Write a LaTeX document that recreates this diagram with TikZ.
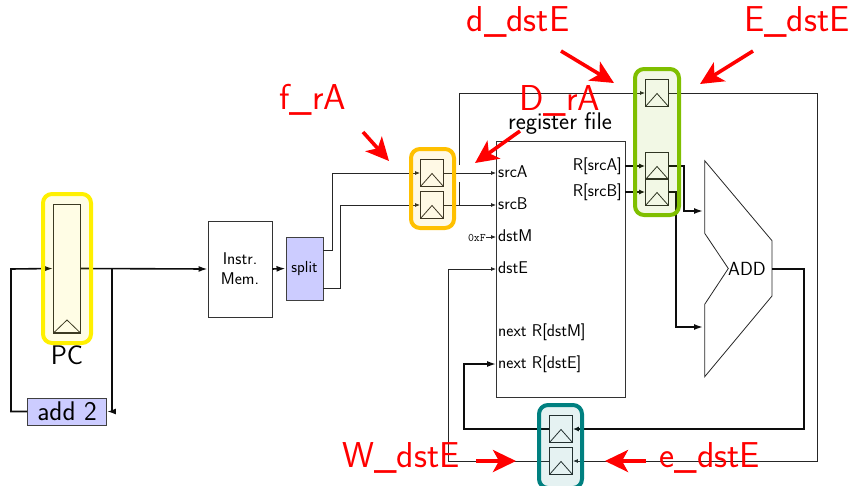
\documentclass[tikz,border=0pt]{standalone}
\usetikzlibrary{arrows.meta,calc}
\definecolor{grpY}{RGB}{255,240,0}
\definecolor{grpO}{RGB}{255,192,0}
\definecolor{grpG}{RGB}{127,191,0}
\definecolor{grpT}{RGB}{0,128,128}
\definecolor{blk}{RGB}{204,204,255}
\tikzset{
  x=1pt,y=-1pt,
  every node/.style={font=\sffamily,inner sep=0pt},
  regbox/.style={draw=black!85,line width=.9pt,minimum width=23pt,minimum height=27pt,
    path picture={\draw[line width=.8pt,black!85]
      (path picture bounding box.south west) --
      ([yshift=13pt]path picture bounding box.south) --
      (path picture bounding box.south east);
      \draw[line width=2pt,black!85] (path picture bounding box.south west) -- (path picture bounding box.south east);}},
  group/.style={draw=#1,fill=#1,fill opacity=.1,draw opacity=1,line width=4pt,rounded corners=9pt,text opacity=1},
  funcbox/.style={draw=black!75,line width=.9pt,fill=blk,align=center},
  plainbox/.style={draw=black!80,line width=.9pt,align=center},
  thinw/.style={line width=.85pt,black!85},
  thickw/.style={line width=1.6pt,black!95},
  thinarr/.style={thinw,-{Latex[length=5pt,width=4pt]}},
  thickarr/.style={thickw,-{Latex[length=9pt,width=6pt]}},
  port/.style={font=\sffamily\fontsize{17}{17}\selectfont,text height=12pt,text depth=3pt,anchor=west},
  redlabel/.style={text=red,font=\sffamily\fontsize{36}{36}\selectfont},
  redarr/.style={draw=red,line width=3.6pt,-{Stealth[length=23pt,width=22pt,inset=6pt]}},
}
\begin{document}
\begin{tikzpicture}
\useasboundingbox (0,0) rectangle (859,485);
% blocks
\node[regbox,minimum width=27pt,minimum height=129pt] (pc) at (67,268.5) {};
\node[font=\sffamily\fontsize{27}{27}\selectfont] (pclbl) at (67,355) {PC};
\node[funcbox,minimum width=79pt,minimum height=27pt,font=\sffamily\fontsize{27}{27}\selectfont] (add) at (67,411.5) {add 2};
\node[plainbox,minimum width=64pt,minimum height=96pt,font=\sffamily\fontsize{17}{20}\selectfont] (imem) at (240,269) {Instr.\\Mem.};
\node[funcbox,minimum width=37pt,minimum height=63pt,font=\sffamily\fontsize{16}{16}\selectfont] (split) at (304.5,268.5) {split};
\node[regbox] (fA) at (432,173) {};
\node[regbox] (fB) at (432,205) {};
\node[regbox] (dE) at (657,93) {};
\node[regbox] (dA) at (657,166) {};
\node[regbox] (dB) at (657,192) {};
\node[regbox] (eE) at (561,429) {};
\node[regbox] (mE) at (561,461) {};
\node[plainbox,minimum width=128.5pt,minimum height=256pt] (rf) at (560.75,269) {};
\node[font=\sffamily\fontsize{24}{24}\selectfont] (rflbl) at (560,124) {register file};
\node[port] (srcA) at (498,173) {srcA};
\node[port] (srcB) at (498,205) {srcB};
\node[port] (dstM) at (498,237) {dstM};
\node[port] (dstE) at (498,269) {dstE};
\node[port] (nextM) at (498,332) {next R[dstM]};
\node[port] (nextE) at (498,364) {next R[dstE]};
\node[port,anchor=east] (rA) at (622,166) {R[srcA]};
\node[port,anchor=east] (rB) at (622,192) {R[srcB]};
\node[anchor=east,font=\ttfamily\fontsize{11.5}{12}\selectfont,text height=8pt,text depth=0pt] (zero) at (486,237) {0xF};
% ALU
\coordinate (a1) at (704.7,160.7);
\coordinate (a2) at (772,240.7);
\coordinate (a3) at (772,296);
\coordinate (a4) at (704.7,376.7);
\coordinate (a5) at (704.7,304.3);
\coordinate (a6) at (728.3,268.5);
\coordinate (a7) at (704.7,233.3);
\draw[line width=.8pt,black!85] (a1) -- (a2) -- (a3) -- (a4) -- (a5) -- (a6) -- (a7) -- cycle;
\node[font=\sffamily\fontsize{19}{19}\selectfont] (addlbl) at (747,268.5) {ADD};
\coordinate (aIn1) at (703,211);
\coordinate (aIn2) at (703,327);
\coordinate (aOut) at (772,269);
% PC loop
\coordinate (loopL) at (11,269);
\coordinate (br) at (112,269);
\draw[thickarr] (add.west) -| (loopL) -- (pc.west);
\draw[thickarr] (pc.east) -- (imem.west);
\draw[thickarr] (br) |- (add.east);
\draw[thickarr] (imem.east) -- (split.west);
% split to F
\coordinate (s1) at (323,250);
\coordinate (s2) at (323,288);
\draw[thinarr] (s1) -- (332,250) |- (fA.west);
\draw[thinarr] (s2) -- (340,288) |- (fB.west);
% F to reg file
\draw[thinarr] (fA.east) -- (srcA.west -| rf.west);
\draw[thinarr] (fB.east) -- (srcB.west -| rf.west);
\draw[thinarr] (zero.east) -- (dstM.west -| rf.west);
\coordinate (j1) at (459,165);
\coordinate (j2) at (459,182);
\draw[thinarr] (j1) |- (dE.west);
\draw[thinw] (j2) -- (j2 |- fB.east);
% reg file to D
\draw[thickw,-{Latex[length=6pt,width=5pt]}] (rA.east -| rf.east) -- (dA.west);
\draw[thickw,-{Latex[length=6pt,width=5pt]}] (rB.east -| rf.east) -- (dB.west);
\draw[thickarr] (dA.east) -- (684,166) |- (aIn1);
\draw[thickarr] (dB.east) -- (676,192) |- (aIn2);
% ALU to E and write back
\draw[thickw,-{Latex[length=6pt,width=5pt]}] (aOut) -- (804,269) |- (eE.east);
\draw[thickarr] (eE.west) -- (464,429) |- (nextE.west -| rf.west);
% dstE path
\draw[thinw,-{Latex[length=5pt,width=4pt]}] (dE.east) -- (817,93) |- (mE.east);
\draw[thinarr] (mE.west) -- (448,461) |- (dstE.west -| rf.west);
% highlight groups
\node[group=grpY,minimum width=48pt,minimum height=149pt] (gpc) at (67,268.5) {};
\node[group=grpO,minimum width=43pt,minimum height=79pt] (gf) at (432.5,188.5) {};
\node[group=grpG,minimum width=44pt,minimum height=146pt] (gd) at (657,142) {};
\node[group=grpT,minimum width=43pt,minimum height=83pt] (gw) at (560.5,446.5) {};
% red annotations
\node[redlabel] (lf) at (313,100) {f\_rA};
\node[redlabel] (lD) at (560,101) {D\_rA};
\node[redlabel] (ld) at (518,22) {d\_dstE};
\node[redlabel] (lE) at (797,22) {E\_dstE};
\node[redlabel] (lW) at (401,458) {W\_dstE};
\node[redlabel] (le) at (710,458) {e\_dstE};
\coordinate (tf) at (389,161);
\coordinate (tD) at (475,163);
\coordinate (td) at (614,83);
\coordinate (tE) at (700,84);
\coordinate (tW) at (516,461);
\coordinate (te) at (605,461);
\coordinate (sf) at (363,132);
\coordinate (sD) at (520,131);
\coordinate (sd) at (561,51);
\coordinate (sE) at (753,51);
\coordinate (sW) at (476,461);
\coordinate (se) at (646,461);
\draw[redarr] (sf) -- (tf);
\draw[redarr] (sD) -- (tD);
\draw[redarr] (sd) -- (td);
\draw[redarr] (sE) -- (tE);
\draw[redarr] (sW) -- (tW);
\draw[redarr] (se) -- (te);
\end{tikzpicture}
\end{document}
